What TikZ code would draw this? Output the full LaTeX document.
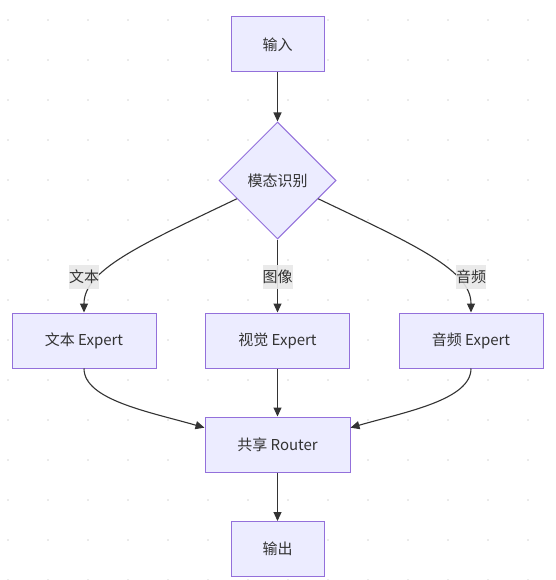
\documentclass[tikz,border=0pt]{standalone}
\usepackage{fontspec}
\setmainfont{Noto Sans CJK SC}
\usetikzlibrary{shapes.geometric,arrows.meta,calc}
\definecolor{nodefill}{HTML}{ECECFF}
\definecolor{nodeline}{HTML}{9370DB}
\definecolor{edgecol}{HTML}{333333}
\definecolor{txt}{HTML}{333333}
\definecolor{lblbg}{HTML}{E8E8E8}
\definecolor{dotcol}{HTML}{D8D8D8}
\tikzset{
  box/.style={draw=nodeline,fill=nodefill,line width=1pt,rectangle,inner sep=0pt,
    text=txt,font=\fontsize{15}{18}\selectfont},
  decide/.style={draw=nodeline,fill=nodefill,line width=1pt,diamond,aspect=1,inner sep=0pt,
    minimum width=117pt,minimum height=117pt,text=txt,font=\fontsize{15}{18}\selectfont},
  lbl/.style={fill=lblbg,fill opacity=0.9,text opacity=1,inner sep=0pt,minimum height=24pt,
    text=txt,font=\fontsize{15}{18}\selectfont},
  edge/.style={draw=edgecol,line width=1.1pt,-{Triangle[length=9pt,width=8pt]}}
}
\begin{document}
\begin{tikzpicture}[x=1pt,y=-1pt]
\useasboundingbox (0,0) rectangle (555,580);
\fill[white] (0,0) rectangle (555,580);
% dot grid
\foreach \i in {0,...,13}{
  \foreach \j in {0,...,14}{
    \fill[dotcol] (8+40*\i,20+40*\j) circle (0.9pt);
  }
}
\node[box,minimum width=93pt,minimum height=55pt] (in) at (277.5,44.5) {输入};
\node[decide] (d) at (277.5,180.5) {模态识别};
\node[box,minimum width=144pt,minimum height=55pt] (te) at (84,340.5) {文本 Expert};
\node[box,minimum width=144pt,minimum height=55pt] (ve) at (277.5,340.5) {视觉 Expert};
\node[box,minimum width=144pt,minimum height=55pt] (ae) at (471,340.5) {音频 Expert};
\node[box,minimum width=145pt,minimum height=55pt] (r) at (277.5,444.5) {共享 Router};
\node[box,minimum width=93pt,minimum height=55pt] (out) at (277.5,549) {输出};

\coordinate (dl) at ($(d.west)!0.31!(d.south)$);
\coordinate (dr) at ($(d.east)!0.31!(d.south)$);
\coordinate (rl) at ($(r.north west)!0.2!(r.south west)$);
\coordinate (rr) at ($(r.north east)!0.2!(r.south east)$);

\draw[edge] (in) -- (d);
\draw[edge] (dl) .. controls (140,245) and (84,270) .. (te.north);
\draw[edge] (d) -- (ve);
\draw[edge] (dr) .. controls (415,245) and (471,270) .. (ae.north);
\draw[edge] (te.south) .. controls (84,400) and (150,412) .. (rl);
\draw[edge] (ve) -- (r);
\draw[edge] (ae.south) .. controls (471,400) and (405,412) .. (rr);
\draw[edge] (r) -- (out);

\node[lbl] (l1) at (84,277) {文本};
\node[lbl] (l2) at (277.5,277) {图像};
\node[lbl] (l3) at (471,277) {音频};
\end{tikzpicture}
\end{document}
